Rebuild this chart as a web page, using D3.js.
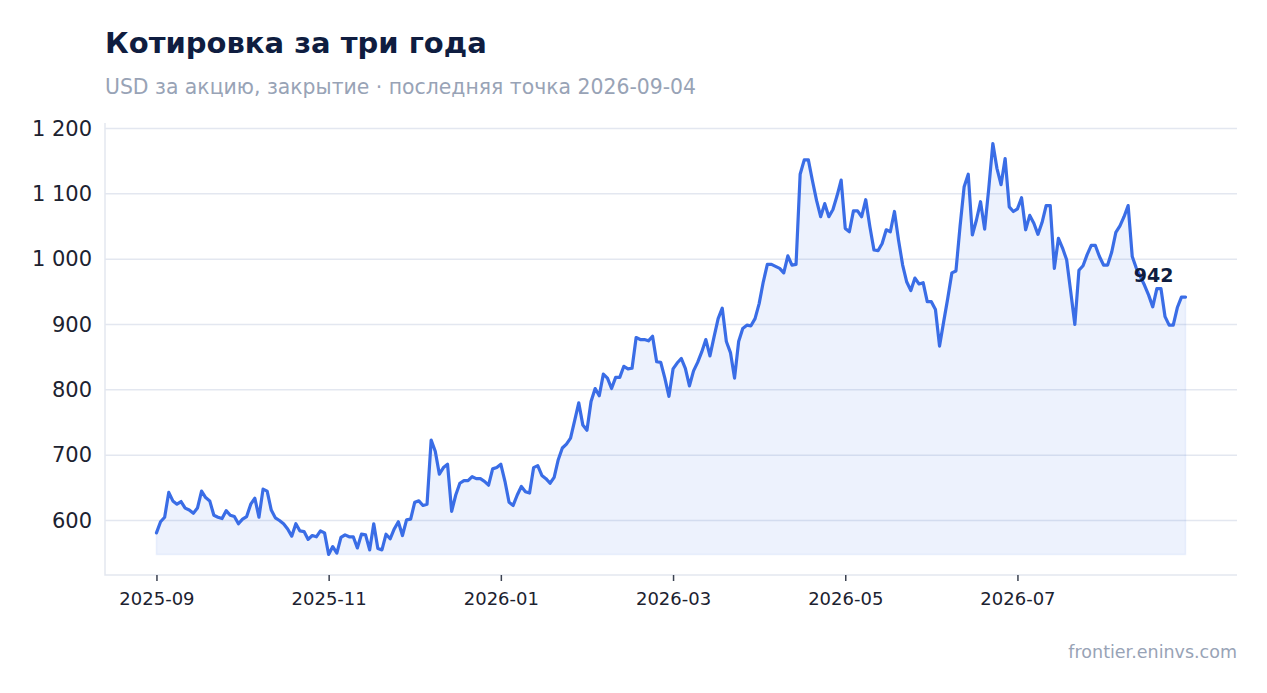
<!DOCTYPE html>
<html lang="ru">
  <head>
    <meta charset="utf-8" />
    <title>Котировка за три года</title>
    <script src="https://d3js.org/d3.v7.min.js"></script>
    <style>
      body {
        margin: 0;
        background: #fff;
        font-family: "DejaVu Sans", sans-serif;
      }

      .grid line {
        stroke: #e3e7f0;
        stroke-width: 1.5px;
      }

      .frame {
        stroke: #e3e7f0;
        stroke-width: 1.5px;
        fill: none;
      }

      .title {
        font-size: 29px;
        font-weight: bold;
        fill: #0f1d40;
      }

      .subtitle,
      .source {
        fill: #98a3b6;
      }
    </style>
  </head>
  <body>
    <svg id="chart" width="1267" height="693"></svg>

    <script>
      // --------------------------------------------------
      // 1. Data (daily closes)
      // --------------------------------------------------
      const closes = [
        581, 598, 605, 643, 630, 625, 629, 619, 616, 611,
        619, 645, 635, 630, 608, 605, 603, 615, 608, 606,
        595, 602, 606, 625, 634, 605, 648, 645, 616, 604,
        600, 595, 587, 576, 595, 584, 583, 571, 577, 575,
        584, 581, 548, 560, 550, 574, 578, 575, 575, 558,
        579, 578, 555, 595, 557, 555, 579, 572, 587, 598,
        577, 601, 602, 628, 630, 623, 625, 723, 706, 671,
        681, 686, 614, 639, 657, 661, 661, 667, 664, 664,
        660, 654, 679, 681, 686, 660, 628, 623, 639, 652,
        644, 642, 681, 684, 669, 664, 657, 666, 693, 711,
        717, 726, 753, 780, 746, 738, 782, 802, 791, 824,
        818, 802, 819, 819, 836, 832, 833, 880, 877, 877,
        875, 882, 843, 842, 818, 790, 832, 841, 848, 833,
        806, 829, 842, 858, 877, 852, 881, 909, 925, 874,
        857, 818, 874, 894, 899, 898, 909, 932, 965, 992,
        992, 989, 986, 979, 1005, 991, 992, 1130, 1152, 1152,
        1120, 1090, 1065, 1085, 1065, 1076, 1097, 1121, 1047, 1042,
        1074, 1074, 1065, 1091, 1050, 1014, 1013, 1024, 1045, 1042,
        1073, 1029, 991, 965, 952, 971, 962, 964, 935, 935,
        923, 867, 904, 940, 979, 982, 1050, 1111, 1130, 1037,
        1060, 1088, 1046, 1108, 1177, 1139, 1114, 1154, 1080, 1073,
        1077, 1094, 1045, 1067, 1055, 1038, 1056, 1082, 1082, 986,
        1032, 1017, 999, 950, 900, 983, 990, 1007, 1021, 1021,
        1004, 991, 991, 1011, 1041, 1051, 1065, 1082, 1004, 986,
        973, 960, 945, 927, 955, 955, 912, 899, 899, 926,
        942, 942
      ];

      // x tick positions (point index) and their labels
      const tickIdx = [0, 42, 84, 126, 168, 210];
      const tickLabels = ["2025-09", "2025-11", "2026-01", "2026-03", "2026-05", "2026-07"];

      const yTicks = [600, 700, 800, 900, 1000, 1100, 1200];

      const title = "Котировка за три года";
      const subtitle = "USD за акцию, закрытие · последняя точка 2026-09-04";
      const source = "frontier.eninvs.com";

      // --------------------------------------------------
      // 2. Scales
      // --------------------------------------------------
      const svg = d3.select("#chart");
      const margin = { top: 123, right: 30, bottom: 118, left: 105 };
      const width = +svg.attr("width");
      const height = +svg.attr("height");
      const plotBottom = height - margin.bottom;
      const plotRight = width - margin.right;

      const n = closes.length;
      const padX = (n - 1) * 0.05;
      const x = d3
        .scaleLinear()
        .domain([-padX, n - 1 + padX])
        .range([margin.left, plotRight]);

      const yMin = d3.min(closes);
      const yMax = d3.max(closes);
      const padY = (yMax - yMin) * 0.05;
      const y = d3
        .scaleLinear()
        .domain([yMin - padY, yMax + padY])
        .range([plotBottom, margin.top]);

      const ru = d3.formatLocale({
        decimal: ",",
        thousands: "\u00a0",
        grouping: [3],
        currency: ["", " $"]
      });
      const fmt = ru.format(",d");

      // --------------------------------------------------
      // 3. Grid + frame
      // --------------------------------------------------
      svg
        .append("g")
        .attr("class", "grid")
        .selectAll("line")
        .data(yTicks)
        .join("line")
        .attr("x1", margin.left)
        .attr("x2", plotRight)
        .attr("y1", (d) => y(d))
        .attr("y2", (d) => y(d));

      svg
        .append("path")
        .attr("class", "frame")
        .attr(
          "d",
          `M${margin.left},${margin.top}V${plotBottom}H${plotRight}`
        );

      // --------------------------------------------------
      // 4. Axes
      // --------------------------------------------------
      const xAxis = svg
        .append("g")
        .attr("transform", `translate(0,${plotBottom})`)
        .call(
          d3
            .axisBottom(x)
            .tickValues(tickIdx)
            .tickFormat((d, i) => tickLabels[i])
            .tickSize(6)
            .tickPadding(11)
        );
      xAxis.select(".domain").remove();
      xAxis.selectAll(".tick line").attr("stroke", "#3a4150").attr("stroke-width", 1.5);
      xAxis
        .selectAll(".tick text")
        .attr("fill", "#1c2230")
        .style("font-family", "DejaVu Sans")
        .style("font-size", "18px");

      const yAxis = svg
        .append("g")
        .attr("transform", `translate(${margin.left},0)`)
        .call(d3.axisLeft(y).tickValues(yTicks).tickFormat(fmt).tickSize(0).tickPadding(13));
      yAxis.select(".domain").remove();
      yAxis
        .selectAll(".tick text")
        .attr("fill", "#1c2230")
        .style("font-family", "DejaVu Sans")
        .style("font-size", "21px");

      // --------------------------------------------------
      // 5. Area + line
      // --------------------------------------------------
      const area = d3
        .area()
        .x((d, i) => x(i))
        .y0(y(yMin))
        .y1((d) => y(d));

      svg
        .append("path")
        .datum(closes)
        .attr("d", area)
        .attr("fill", "#3a6de6")
        .attr("fill-opacity", 0.09)
        .attr("stroke", "#3a6de6")
        .attr("stroke-opacity", 0.08)
        .attr("stroke-width", 1.5);

      const line = d3
        .line()
        .x((d, i) => x(i))
        .y((d) => y(d));

      svg
        .append("path")
        .datum(closes)
        .attr("d", line)
        .attr("fill", "none")
        .attr("stroke", "#3a6de6")
        .attr("stroke-width", 3.2)
        .attr("stroke-linejoin", "round")
        .attr("stroke-linecap", "round");

      // last value label
      const last = closes[n - 1];
      svg
        .append("text")
        .attr("x", x(n - 1) - 12)
        .attr("y", y(last) - 15)
        .attr("text-anchor", "end")
        .style("font-size", "19px")
        .style("font-weight", "bold")
        .attr("fill", "#0f1d40")
        .text(fmt(last));

      // --------------------------------------------------
      // 6. Titles
      // --------------------------------------------------
      svg
        .append("text")
        .attr("class", "title")
        .attr("x", margin.left)
        .attr("y", 53)
        .text(title);

      svg
        .append("text")
        .attr("class", "subtitle")
        .attr("x", margin.left)
        .attr("y", 94)
        .style("font-size", "20.4px")
        .text(subtitle);

      svg
        .append("text")
        .attr("class", "source")
        .attr("x", plotRight)
        .attr("y", 658)
        .attr("text-anchor", "end")
        .style("font-size", "17.5px")
        .text(source);
    </script>
  </body>
</html>
